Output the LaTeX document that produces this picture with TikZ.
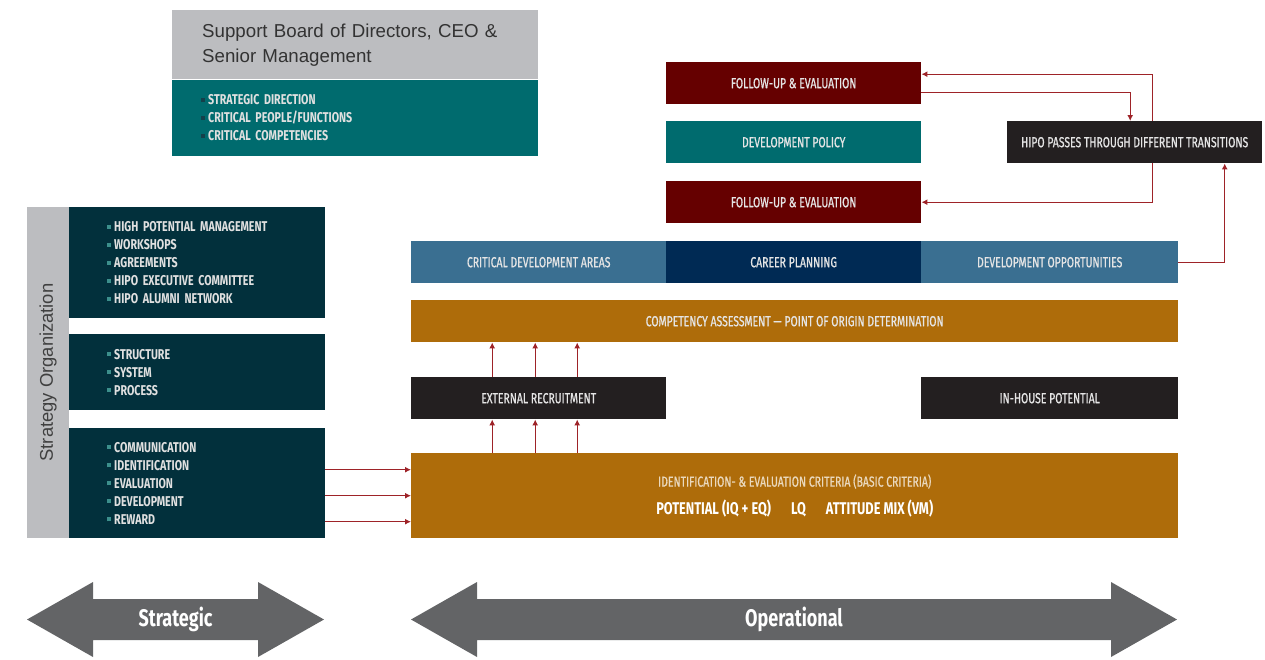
\documentclass[tikz,border=0pt]{standalone}
\usepackage{fontspec}
\setmainfont{Liberation Sans}
\newfontfamily\condfont[FakeStretch=0.75]{Fira Sans}
\newfontfamily\labelfont[FakeStretch=0.72,FakeBold=0.8]{Fira Sans}
\usetikzlibrary{arrows.meta}
\definecolor{tealbox}{HTML}{006B6E}
\definecolor{navybox}{HTML}{02303C}
\definecolor{greybar}{HTML}{BCBDC0}
\definecolor{wine}{HTML}{650000}
\definecolor{blackbox}{HTML}{231F20}
\definecolor{steel}{HTML}{3A6F91}
\definecolor{navy}{HTML}{002A54}
\definecolor{ochre}{HTML}{AE6C0A}
\definecolor{ochretext}{HTML}{EAD9BE}
\definecolor{arrowred}{HTML}{9E2328}
\definecolor{bandgrey}{HTML}{636466}
\definecolor{bulletteal}{HTML}{3C8F8C}
\definecolor{bulletdark}{HTML}{14404A}
\newcommand{\blt}[1]{\textcolor{#1}{\rule[3pt]{4pt}{4pt}}\hspace{3pt}}

\begin{document}
\begin{tikzpicture}[x=1pt,y=-1pt,>={Latex[length=6pt,width=6pt]},
  box/.style={anchor=north west,minimum width=255pt,minimum height=42pt,inner sep=0pt,
    text=white!90!black,font=\labelfont\fontsize{14.5}{16}\selectfont},
  listbox/.style={anchor=north west,fill=navybox,minimum height=#1,text width=180pt,
    inner xsep=38pt,inner ysep=0pt,align=left,text=white!88!black,
    font=\condfont\bfseries\fontsize{14.2}{18}\selectfont},
  link/.style={->,draw=arrowred,line width=1.2pt},
  bandlabel/.style={text=white,font=\condfont\bfseries\fontsize{24}{24}\selectfont}]
  \useasboundingbox (0,0) rectangle (1265,659);

  % top left board
  \node[anchor=north west,fill=greybar,minimum width=366pt,minimum height=69pt,inner ysep=0pt,
    inner xsep=30pt,text width=306pt,align=left,text=black!80,font=\fontsize{18.7}{25}\selectfont]
    (board) at (172,10) {Support Board of Directors, CEO \&\\Senior Management};
  \node[listbox=76pt,fill=tealbox,anchor=north,text width=308pt,inner xsep=29pt] (support) at (board.south)
    {\blt{bulletdark}STRATEGIC DIRECTION\\\blt{bulletdark}CRITICAL PEOPLE/FUNCTIONS\\\blt{bulletdark}CRITICAL COMPETENCIES};

  % strategy organization
  \node[fill=greybar,rotate=90,minimum width=331pt,minimum height=42pt,inner sep=0pt,
    text=black!75,font=\fontsize{18.4}{18}\selectfont] (orgbar) at (48,372.5) {Strategy Organization};
  \node[listbox=111pt] (hipomgmt) at (69,207)
    {\blt{bulletteal}HIGH POTENTIAL MANAGEMENT\\\blt{bulletteal}WORKSHOPS\\\blt{bulletteal}AGREEMENTS\\
     \blt{bulletteal}HIPO EXECUTIVE COMMITTEE\\\blt{bulletteal}HIPO ALUMNI NETWORK};
  \node[listbox=76pt] (structure) at (69,334)
    {\blt{bulletteal}STRUCTURE\\\blt{bulletteal}SYSTEM\\\blt{bulletteal}PROCESS};
  \node[listbox=110pt] (processes) at (69,428)
    {\blt{bulletteal}COMMUNICATION\\\blt{bulletteal}IDENTIFICATION\\\blt{bulletteal}EVALUATION\\
     \blt{bulletteal}DEVELOPMENT\\\blt{bulletteal}REWARD};

  % operational blocks
  \node[box,fill=wine] (followup1) at (666,62) {FOLLOW-UP \& EVALUATION};
  \node[box,fill=tealbox] (policy) at (666,121) {DEVELOPMENT POLICY};
  \node[box,fill=wine] (followup2) at (666,181) {FOLLOW-UP \& EVALUATION};
  \node[box,fill=blackbox] (hipo) at (1007,121) {HIPO PASSES THROUGH DIFFERENT TRANSITIONS};
  \node[box,fill=steel] (areas) at (411,241) {CRITICAL DEVELOPMENT AREAS};
  \node[box,fill=navy] (career) at (666,241) {CAREER PLANNING};
  \node[box,fill=steel,minimum width=257pt] (opps) at (921,241) {DEVELOPMENT OPPORTUNITIES};
  \node[box,fill=ochre,minimum width=767pt] (competency) at (411,300)
    {COMPETENCY ASSESSMENT — POINT OF ORIGIN DETERMINATION};
  \node[box,fill=blackbox] (external) at (411,377) {EXTERNAL RECRUITMENT};
  \node[box,fill=blackbox,minimum width=257pt] (inhouse) at (921,377) {IN-HOUSE POTENTIAL};
  \node[box,fill=ochre,minimum width=767pt,minimum height=85pt,align=center] (criteria) at (411,453)
    {\textcolor{ochretext}{IDENTIFICATION- \& EVALUATION CRITERIA (BASIC CRITERIA)}\\[10pt]
     {\condfont\bfseries\color{white}\fontsize{17}{18}\selectfont POTENTIAL (IQ + EQ)\hspace{20pt}LQ\hspace{20pt}ATTITUDE MIX (VM)}};

  % connectors
  \draw[link] ([xshift=17.5pt]hipo.north) |- ([yshift=9pt]followup1.east);
  \draw[link] ([yshift=-9pt]followup1.east) -| ([xshift=-4.5pt]hipo.north);
  \draw[link] ([xshift=17.5pt]hipo.south) |- (followup2.east);
  \draw[link] (opps.east) -| ([xshift=90pt]hipo.south);
  \foreach \dx [count=\i] in {-46.5,-3.5,38.5}{
    \coordinate (up\i) at ([xshift=\dx pt]external.south);
    \coordinate (top\i) at ([xshift=\dx pt]external.north);
    \draw[link] (up\i |- criteria.north) -- (up\i);
    \draw[link] (top\i) -- (top\i |- competency.south);
  }
  \foreach \dy [count=\i] in {26,0,-26}{
    \coordinate (in\i) at ([yshift=\dy pt]criteria.west);
    \draw[link] (in\i -| processes.east) -- (in\i);
  }

  % bottom bands
  \fill[bandgrey] (27,619.5) -- (93,582) -- (93,599) -- (258,599) -- (258,582) -- (324,619.5)
    -- (258,657) -- (258,640) -- (93,640) -- (93,657) -- cycle;
  \node[bandlabel] (strategic) at (175.5,619.5) {Strategic};
  \fill[bandgrey] (411,619.5) -- (477,582) -- (477,599) -- (1111,599) -- (1111,582) -- (1177,619.5)
    -- (1111,657) -- (1111,640) -- (477,640) -- (477,657) -- cycle;
  \node[bandlabel] (operational) at (794,619.5) {Operational};
\end{tikzpicture}
\end{document}
